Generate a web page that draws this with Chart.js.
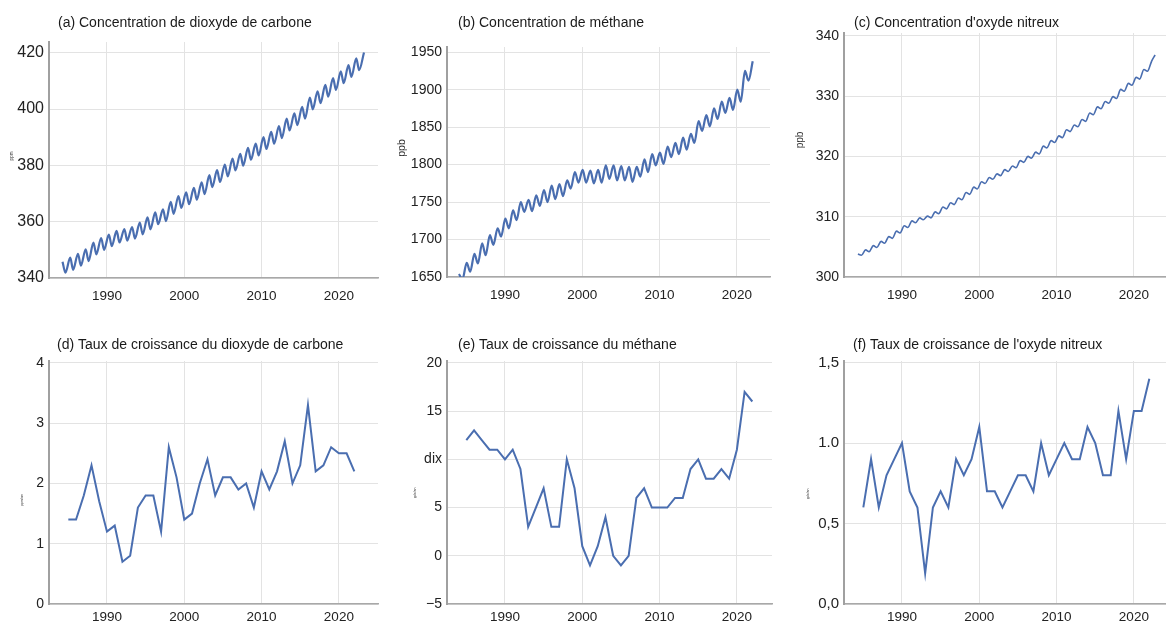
<!DOCTYPE html>
<html><head><meta charset="utf-8">
<script src="https://cdn.jsdelivr.net/npm/chart.js@4"></script>
<style>
html,body{margin:0;padding:0;background:#fff;width:1166px;height:621px;overflow:hidden;position:relative}
.panel{position:absolute}
.panel canvas{display:block}
</style></head><body>
<div id="pa" class="panel"><canvas></canvas></div>
<div id="pb" class="panel"><canvas></canvas></div>
<div id="pc" class="panel"><canvas></canvas></div>
<div id="pd" class="panel"><canvas></canvas></div>
<div id="pe" class="panel"><canvas></canvas></div>
<div id="pf" class="panel"><canvas></canvas></div>
<script>
// ---------- DATA ----------
const concYears = [1984,1985,1986,1987,1988,1989,1990,1991,1992,1993,1994,1995,1996,1997,1998,1999,2000,2001,2002,2003,2004,2005,2006,2007,2008,2009,2010,2011,2012,2013,2014,2015,2016,2017,2018,2019,2020,2021,2022,2023];
const xTicks = [1990, 2000, 2010, 2020];

// CO2 (ppm): seasonal maximum (spring) and minimum (autumn) of each year
const co2PeakFrac = 0.25, co2TroughFrac = 0.62;
const co2Peak = [345.8,347.2,348.6,350.2,352.6,354.2,355.4,356.7,357.4,358.1,359.7,361.5,363.3,364.4,367.0,369.1,370.4,372.0,374.0,376.5,378.3,380.3,382.4,384.1,386.2,387.7,390.0,391.9,393.9,396.6,398.5,400.8,404.1,406.3,408.6,411.0,413.4,415.6,418.0,420.1];
const co2Trough = [341.9,342.9,344.4,346.0,348.4,350.0,351.3,352.6,353.3,354.0,355.5,357.3,359.1,360.2,362.8,364.9,366.2,367.8,369.8,372.3,374.1,376.1,378.2,379.9,382.0,383.5,385.8,387.7,389.7,392.4,394.3,396.6,399.9,402.1,404.4,406.8,409.2,411.4,413.8];
const co2Ticks = [340, 360, 380, 400, 420];

// CH4 (ppb)
const ch4PeakFrac = 0.05, ch4TroughFrac = 0.5;
const ch4Peak = [1654,1669,1681,1695,1706,1715,1728,1739,1750,1753,1759,1766,1772,1774,1779,1790,1793,1792,1793,1799,1799,1798,1797,1797,1807,1814,1816,1824,1829,1836,1841,1858,1866,1875,1884,1889,1900,1925,1938];
const ch4Trough = [1647,1657,1668,1679,1693,1704,1715,1726,1737,1738,1745,1750,1754,1758,1768,1776,1776,1775,1776,1781,1779,1779,1777,1784,1790,1799,1801,1810,1814,1820,1829,1845,1851,1861,1869,1873,1884,1912];
const ch4Ticks = [1650, 1700, 1750, 1800, 1850, 1900, 1950];

// N2O (ppb)
const n2oPeakFrac = 0.3, n2oDipFrac = 0.75;
const n2oPeak = [303.8,304.5,305.2,305.9,306.7,307.6,308.5,309.3,309.8,310.1,310.8,311.6,312.3,313.1,314.0,314.9,315.8,316.5,317.1,317.8,318.4,319.3,320.0,320.7,321.7,322.6,323.4,324.4,325.2,326.1,327.2,328.2,329.1,329.9,331.1,332.1,333.1,334.4,335.8];
const n2oDip = [303.6,304.2,304.9,305.6,306.4,307.3,308.2,309.0,309.5,309.8,310.5,311.3,312.0,312.8,313.7,314.6,315.5,316.2,316.8,317.5,318.1,319.0,319.7,320.4,321.4,322.3,323.1,324.1,324.9,325.8,326.9,327.9,328.8,329.6,330.8,331.8,332.8,334.1,336.8];
const n2oTicks = [300, 310, 320, 330, 340];

// Growth rates
const growthYears = [1985,1986,1987,1988,1989,1990,1991,1992,1993,1994,1995,1996,1997,1998,1999,2000,2001,2002,2003,2004,2005,2006,2007,2008,2009,2010,2011,2012,2013,2014,2015,2016,2017,2018,2019,2020,2021,2022];
const co2Growth = [1.4,1.4,1.8,2.3,1.7,1.2,1.3,0.7,0.8,1.6,1.8,1.8,1.2,2.6,2.1,1.4,1.5,2.0,2.4,1.8,2.1,2.1,1.9,2.0,1.6,2.2,1.9,2.2,2.7,2.0,2.3,3.3,2.2,2.3,2.6,2.5,2.5,2.2];
const ch4Growth = [12,13,12,11,11,10,11,9,3,5,7,3,3,10,7,1,-1,1,4,0,-1,0,6,7,5,5,5,6,6,9,10,8,8,9,8,11,17,16];
const n2oGrowth = [0.6,0.9,0.6,0.8,0.9,1.0,0.7,0.6,0.19,0.6,0.7,0.6,0.9,0.8,0.9,1.1,0.7,0.7,0.6,0.7,0.8,0.8,0.7,1.0,0.8,0.9,1.0,0.9,0.9,1.1,1.0,0.8,0.8,1.2,0.9,1.2,1.2,1.4];
const co2GrowthTicks = [0, 1, 2, 3, 4];
const ch4GrowthTicks = [-5, 0, 5, 10, 15, 20];
const ch4GrowthTickLabels = ['−5', '0', '5', 'dix', '15', '20'];
const n2oGrowthTicks = [0, 0.5, 1, 1.5];
const n2oGrowthTickLabels = ['0,0', '0,5', '1.0', '1,5'];

const titles = [
  '(a) Concentration de dioxyde de carbone',
  '(b) Concentration de méthane',
  "(c) Concentration d'oxyde nitreux",
  '(d) Taux de croissance du dioxyde de carbone',
  '(e) Taux de croissance du méthane',
  "(f) Taux de croissance de l'oxyde nitreux"
];

// ---------- BUILD ----------
function seasonal(years, hi, hiFrac, lo, loFrac) {
  const pts = [];
  years.forEach((y, i) => {
    if (hi[i] !== undefined) pts.push({x: y + hiFrac, y: hi[i]});
    if (lo[i] !== undefined) pts.push({x: y + loFrac, y: lo[i]});
  });
  return pts;
}
function annual(years, vals) { return years.map((y, i) => ({x: y, y: vals[i]})); }

const FONT = '"Liberation Sans", Arial, Helvetica, sans-serif';
Chart.defaults.font.family = FONT;
Chart.defaults.animation = false;

const LINE = '#4a6eb0';
const PX_PER_YEAR = 7.73;
const X_MIN = 1982.5;
const YW = 55, XH = 30, TOPPAD = 36, RPAD = 6;

function makePanel(id, s) {
  const el = document.getElementById(id);
  const cl = s.l - YW, ct = s.t - TOPPAD;
  const cw = (s.r - s.l) + YW + RPAD, ch = (s.b - s.t) + TOPPAD + XH;
  Object.assign(el.style, {left: cl + 'px', top: ct + 'px', width: cw + 'px', height: ch + 'px'});
  const xMax = X_MIN + (s.r - s.l) / PX_PER_YEAR;
  const labelPlugin = {
    id: 'labels' + id,
    afterDraw(chart) {
      const ctx = chart.ctx;
      ctx.save();
      ctx.fillStyle = '#1a1a1a';
      ctx.font = '14px ' + FONT;
      ctx.textBaseline = 'middle';
      ctx.textAlign = 'left';
      ctx.fillText(s.title, s.titleX - cl, s.titleY - ct);
      ctx.translate(s.unitX - cl, s.unitY - ct);
      ctx.rotate(-Math.PI / 2);
      ctx.textAlign = 'center';
      ctx.fillStyle = '#333';
      ctx.font = s.unitFont + 'px ' + FONT;
      ctx.fillText(s.unit, 0, 0);
      ctx.restore();
    }
  };
  new Chart(el.querySelector('canvas'), {
    type: 'line',
    data: {datasets: [{
      data: s.data,
      borderColor: LINE,
      borderWidth: s.lw,
      pointRadius: 0,
      tension: s.smooth ? 0.4 : 0,
      cubicInterpolationMode: s.smooth ? 'monotone' : 'default',
      fill: false
    }]},
    options: {
      responsive: true,
      maintainAspectRatio: false,
      animation: false,
      layout: {padding: {left: 0, top: TOPPAD, right: RPAD, bottom: 0}},
      plugins: {legend: {display: false}, title: {display: false}, tooltip: {enabled: false}},
      scales: {
        x: {
          type: 'linear', min: X_MIN, max: xMax,
          afterBuildTicks: sc => { sc.ticks = xTicks.map(v => ({value: v})); },
          afterFit: sc => { sc.height = XH; },
          ticks: {color: '#222', font: {size: 13.5}, padding: s.xPad, maxRotation: 0, autoSkip: false,
                  callback: v => String(v)},
          grid: {color: '#e3e3e3', lineWidth: 1, drawTicks: false},
          border: {color: '#a8a8a8', width: 1.5}
        },
        y: {
          type: 'linear', min: s.yMin, max: s.yMax,
          afterBuildTicks: sc => { sc.ticks = s.yTicks.map(v => ({value: v})); },
          afterFit: sc => { sc.width = YW; },
          ticks: {color: '#222', font: {size: s.yFont}, padding: 5, autoSkip: false,
                  callback: v => s.yLabels ? s.yLabels[s.yTicks.indexOf(v)] : String(v)},
          grid: {color: '#e3e3e3', lineWidth: 1, drawTicks: false},
          border: {color: '#a0a0a0', width: 2}
        }
      }
    },
    plugins: [labelPlugin]
  });
}

makePanel('pa', {l: 49, r: 378, t: 42, b: 278, yMin: 340, yMax: 423.8, yTicks: co2Ticks, yFont: 16, xPad: 10,
  title: titles[0], titleX: 58, titleY: 23, unit: 'ppm', unitFont: 4.5, unitX: 12, unitY: 156,
  data: seasonal(concYears, co2Peak, co2PeakFrac, co2Trough, co2TroughFrac), lw: 2.2, smooth: true});
makePanel('pb', {l: 447, r: 770, t: 47, b: 277, yMin: 1650, yMax: 1957, yTicks: ch4Ticks, yFont: 14, xPad: 10,
  title: titles[1], titleX: 458, titleY: 23, unit: 'ppb', unitFont: 10.5, unitX: 402, unitY: 148,
  data: seasonal(concYears, ch4Peak, ch4PeakFrac, ch4Trough, ch4TroughFrac), lw: 2.2, smooth: true});
makePanel('pc', {l: 844, r: 1172, t: 33, b: 277, yMin: 300, yMax: 340.45, yTicks: n2oTicks, yFont: 14, xPad: 10,
  title: titles[2], titleX: 854, titleY: 23, unit: 'ppb', unitFont: 10, unitX: 800, unitY: 140,
  data: seasonal(concYears, n2oPeak, n2oPeakFrac, n2oDip, n2oDipFrac), lw: 1.6, smooth: true});
makePanel('pd', {l: 49, r: 378, t: 361, b: 604, yMin: 0, yMax: 4.03, yTicks: co2GrowthTicks, yFont: 14, xPad: 5,
  title: titles[3], titleX: 57, titleY: 345, unit: 'ppm/an', unitFont: 3.5, unitX: 22, unitY: 500,
  data: annual(growthYears, co2Growth), lw: 2, smooth: false});
makePanel('pe', {l: 447, r: 772, t: 361, b: 604, yMin: -5, yMax: 20.2, yTicks: ch4GrowthTicks, yLabels: ch4GrowthTickLabels, yFont: 14, xPad: 5,
  title: titles[4], titleX: 458, titleY: 345, unit: 'ppb/an', unitFont: 3.5, unitX: 415, unitY: 493,
  data: annual(growthYears, ch4Growth), lw: 2, smooth: false});
makePanel('pf', {l: 844, r: 1172, t: 361, b: 604, yMin: 0, yMax: 1.51, yTicks: n2oGrowthTicks, yLabels: n2oGrowthTickLabels, yFont: 15, xPad: 5,
  title: titles[5], titleX: 853, titleY: 345, unit: 'ppb/an', unitFont: 3.5, unitX: 808, unitY: 494,
  data: annual(growthYears, n2oGrowth), lw: 2, smooth: false});
</script>
</body></html>
